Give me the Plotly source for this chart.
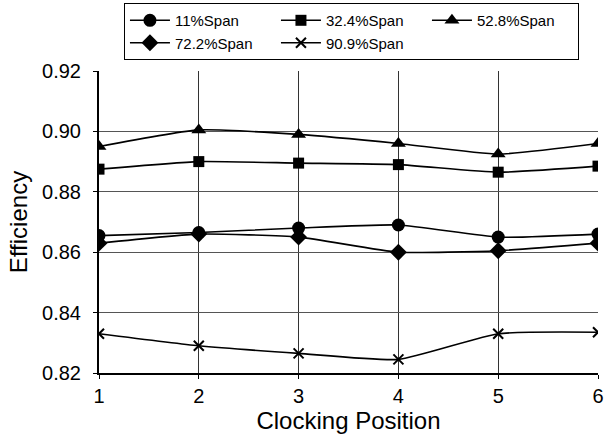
import plotly.graph_objects as go

positions = [1, 2, 3, 4, 5, 6]
span_11 = [0.8655, 0.8665, 0.868, 0.869, 0.865, 0.866]
span_32 = [0.8875, 0.890, 0.8895, 0.889, 0.8865, 0.8885]
span_52 = [0.895, 0.9005, 0.899, 0.896, 0.8925, 0.896]
span_72 = [0.863, 0.866, 0.865, 0.860, 0.8605, 0.863]
span_90 = [0.833, 0.829, 0.8265, 0.8245, 0.833, 0.8335]

series = [
    ("11%Span", span_11, "circle", 13),
    ("32.4%Span", span_32, "square", 11),
    ("52.8%Span", span_52, "triangle-up", 13),
    ("72.2%Span", span_72, "diamond", 13),
    ("90.9%Span", span_90, "x-thin", 10),
]

fig = go.Figure()
for name, vals, sym, sz in series:
    fig.add_trace(go.Scatter(
        x=positions, y=vals, name=name, mode="lines+markers",
        line=dict(color="black", width=1.6, shape="spline", smoothing=0.5),
        marker=dict(symbol=sym, size=sz, color="black",
                    line=dict(color="black", width=2 if sym == "x-thin" else 0)),
    ))

fig.update_layout(
    width=605, height=442,
    margin=dict(l=99, r=7, t=71, b=69, autoexpand=False),
    paper_bgcolor="white", plot_bgcolor="white",
    font=dict(family="Liberation Sans, Arial, sans-serif", color="black", size=20),
    legend=dict(
        orientation="h", x=0.05, xanchor="left", y=1.225, yanchor="top",
        entrywidth=96, entrywidthmode="pixels",
        bordercolor="black", borderwidth=1, font=dict(size=15),
        tracegroupgap=0, itemwidth=40,
    ),
    showlegend=True,
)
fig.update_xaxes(
    range=[1, 6], tickvals=positions, ticks="outside", ticklen=4, tickcolor="black",
    ticklabeloverflow="allow",
    showline=True, linecolor="black", linewidth=2, mirror=False,
    showgrid=True, gridcolor="#333", gridwidth=0.8, zeroline=False,
    title=dict(text="Clocking Position", font=dict(size=24), standoff=6),
)
fig.update_yaxes(
    range=[0.82, 0.92], dtick=0.02, tickformat=".2f", ticks="outside", ticklen=4,
    tickcolor="black", ticklabelstandoff=8,
    showline=True, linecolor="black", linewidth=2, mirror=False,
    showgrid=True, gridcolor="#555", gridwidth=0.8, zeroline=False,
    title=dict(text="Efficiency", font=dict(size=24), standoff=8),
)
fig.write_html("out.html", config={"displayModeBar": False},
               post_script="document.body.style.margin='0';")
